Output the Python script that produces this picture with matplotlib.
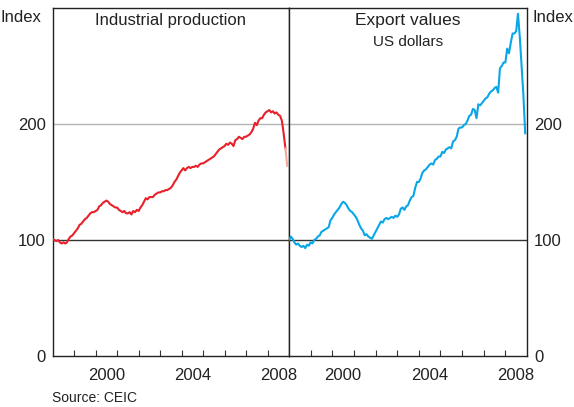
import numpy as np
import matplotlib.pyplot as plt

plt.rcParams['font.family'] = ['Liberation Sans', 'DejaVu Sans']

# monthly index, Jan 1998 - Dec 2008
ip_1998 = [101, 100, 99, 100, 98, 97, 98, 97, 98, 101, 103, 104]
ip_1999 = [106, 108, 110, 113, 114, 116, 118, 119, 121, 123, 124, 124]
ip_2000 = [125, 126, 129, 130, 132, 133, 134, 133, 131, 130, 129, 128]
ip_2001 = [128, 126, 125, 124, 125, 123, 123, 124, 122, 125, 124, 126]
ip_2002 = [125, 128, 130, 133, 136, 135, 137, 137, 137, 139, 140, 141]
ip_2003 = [141, 142, 142, 143, 143, 144, 145, 147, 150, 152, 155, 158]
ip_2004 = [160, 162, 160, 162, 163, 162, 163, 163, 164, 163, 165, 166]
ip_2005 = [166, 167, 168, 169, 170, 171, 172, 174, 176, 178, 179, 180]
ip_2006 = [181, 183, 182, 184, 183, 181, 186, 187, 189, 188, 187, 189]
ip_2007 = [189, 190, 191, 193, 196, 201, 199, 203, 205, 205, 208, 210]
ip_2008 = [211, 212, 210, 211, 209, 210, 208, 207, 203, 192, 179, 164]

ex_1998 = [100, 103, 101, 98, 96, 97, 95, 94, 95, 93, 96, 95]
ex_1999 = [98, 97, 100, 101, 103, 104, 107, 108, 109, 110, 111, 117]
ex_2000 = [119, 122, 124, 126, 128, 131, 133, 132, 130, 127, 125, 124]
ex_2001 = [122, 120, 117, 113, 110, 108, 104, 105, 103, 102, 101, 104]
ex_2002 = [107, 110, 113, 116, 115, 118, 119, 118, 119, 120, 119, 121]
ex_2003 = [120, 122, 127, 128, 126, 129, 130, 134, 137, 138, 145, 150]
ex_2004 = [150, 153, 158, 160, 161, 163, 165, 166, 165, 169, 170, 172]
ex_2005 = [172, 176, 175, 178, 179, 180, 179, 185, 186, 189, 196, 197]
ex_2006 = [197, 199, 200, 203, 207, 208, 213, 212, 205, 217, 216, 218]
ex_2007 = [220, 222, 223, 226, 228, 229, 231, 232, 227, 248, 250, 253]
ex_2008 = [253, 265, 261, 270, 278, 278, 280, 295, 275, 250, 225, 192]

ip = np.array(ip_1998 + ip_1999 + ip_2000 + ip_2001 + ip_2002 + ip_2003
              + ip_2004 + ip_2005 + ip_2006 + ip_2007 + ip_2008)
ex = np.array(ex_1998 + ex_1999 + ex_2000 + ex_2001 + ex_2002 + ex_2003
              + ex_2004 + ex_2005 + ex_2006 + ex_2007 + ex_2008)
t = 1998 + np.arange(len(ip)) / 12

year_labels = ['2000', '2004', '2008']
year_label_pos = [2000.5, 2004.5, 2008.5]
y_ticks = [0, 100, 200]

RED = '#e8202a'
RED_LIGHT = '#f5a89c'
BLUE = '#0aa6e6'
TXT = '#222222'

fig = plt.figure(figsize=(5.74, 4.07), dpi=100)
L, R, B, T = 52.7 / 574, 527 / 574, 1 - 356 / 407, 1 - 8 / 407
mid = 289 / 574
ax1 = fig.add_axes([L, B, mid - L, T - B])
ax2 = fig.add_axes([mid, B, R - mid, T - B])

for ax in (ax1, ax2):
    ax.set_xlim(1998, 2009)
    ax.set_ylim(0, 300)
    ax.axhline(200, color='#b4b4b4', lw=1, zorder=1)
    ax.axhline(100, color='#333333', lw=1, zorder=1)
    ax.set_xticks(np.arange(1999, 2009))
    ax.set_xticklabels([])
    ax.set_xticks(year_label_pos, minor=True)
    ax.set_xticklabels(year_labels, minor=True, fontsize=12, color=TXT)
    ax.tick_params(axis='x', which='major', direction='in', length=4, width=0.8, color='#333333')
    ax.tick_params(axis='x', which='minor', length=0, pad=9)
    ax.set_yticks(y_ticks)
    ax.tick_params(axis='y', length=0, labelsize=12, labelcolor=TXT, pad=5)
    for s in ax.spines.values():
        s.set_color('#222222')
        s.set_linewidth(1)

ax1.plot(t[:-1], ip[:-1], color=RED, lw=1.5, zorder=3)
ax1.plot(t[-2:], ip[-2:], color=RED_LIGHT, lw=1.5, zorder=3)
ax2.plot(t, ex, color=BLUE, lw=1.5, zorder=3)

ax2.yaxis.tick_right()

ax1.text(0.5, 0.985, 'Industrial production', transform=ax1.transAxes, ha='center', va='top',
         fontsize=12, color=TXT)
ax2.text(0.5, 0.985, 'Export values', transform=ax2.transAxes, ha='center', va='top',
         fontsize=12.5, color=TXT)
ax2.text(0.5, 0.922, 'US dollars', transform=ax2.transAxes, ha='center', va='top',
         fontsize=11, color=TXT)

fig.text(1 / 574, 1 - 17 / 407, 'Index', ha='left', va='center', fontsize=12, color=TXT)
fig.text(573 / 574, 1 - 17 / 407, 'Index', ha='right', va='center', fontsize=12, color=TXT)
fig.text(52 / 574, 1 - 398 / 407, 'Source: CEIC', ha='left', va='center', fontsize=10, color=TXT)

fig.savefig('out.png', dpi=100)
